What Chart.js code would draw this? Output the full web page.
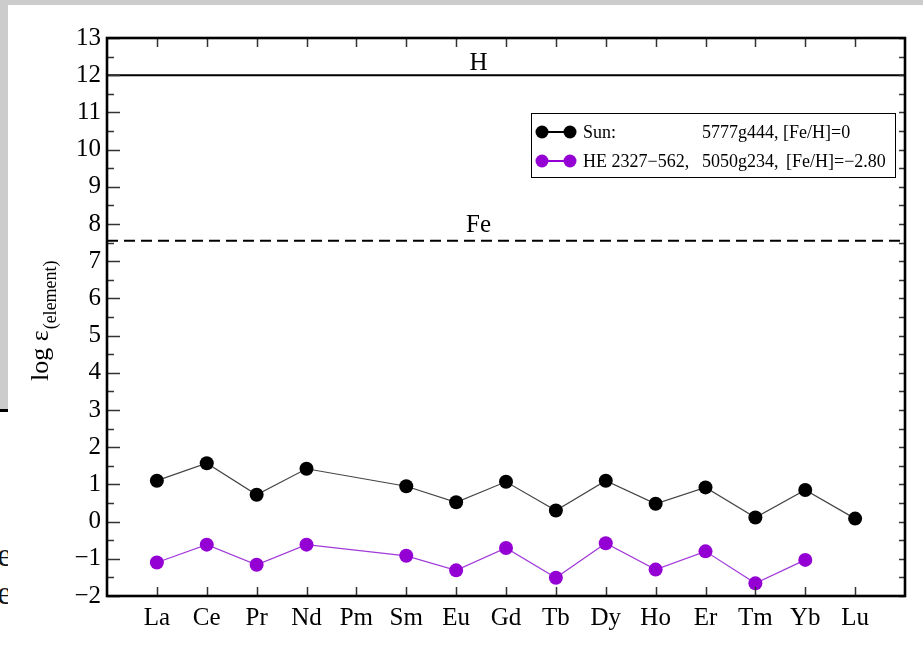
<!DOCTYPE html>
<html>
<head>
<meta charset="utf-8">
<script src="https://cdn.jsdelivr.net/npm/chart.js@4"></script>
<style>
  html, body { margin: 0; padding: 0; background: #fff; }
  body { width: 923px; height: 654px; position: relative; overflow: hidden; font-family: "Liberation Serif", serif; }
  #topstrip { position: absolute; left: 0; top: 0; width: 923px; height: 5px; background: #cccccc; }
  #leftstrip { position: absolute; left: 0; top: 0; width: 8px; height: 409px; background: #cccccc; border-bottom: 3px solid #000; }
  .frag { position: absolute; left: 0; width: 8px; height: 30px; overflow: hidden; font-size: 34px; line-height: 30px; color: #111; }
  .frag span { position: relative; left: -3px; }
  #wrap { position: absolute; left: 0; top: 0; width: 923px; height: 654px; }
</style>
</head>
<body>
<div id="topstrip"></div>
<div id="leftstrip"></div>
<div class="frag" style="top:540px"><span>e</span></div>
<div class="frag" style="top:578px"><span>e</span></div>
<div id="wrap"><canvas id="c" width="923" height="654"></canvas></div>
<script>
// ---- data ----
const elements = ['La','Ce','Pr','Nd','Pm','Sm','Eu','Gd','Tb','Dy','Ho','Er','Tm','Yb','Lu'];
const sunValues = [1.10, 1.57, 0.72, 1.42, null, 0.95, 0.52, 1.07, 0.30, 1.10, 0.48, 0.92, 0.11, 0.85, 0.08];
const heValues  = [-1.10, -0.62, -1.16, -0.62, null, -0.92, -1.31, -0.71, -1.51, -0.58, -1.29, -0.80, -1.66, -1.03, null];
const yTickValues = [-2,-1,0,1,2,3,4,5,6,7,8,9,10,11,12,13];
const refLineLabels = ['H', 'Fe'];
const refLineValues = [12, 7.55];
const seriesNames = ['Sun:', 'HE 2327\u2212562,'];
const seriesModels = ['5777g444, [Fe/H]=0', '5050g234,'];
const seriesMetal = ['', '[Fe/H]=\u22122.80'];

const SERIF = '"Liberation Serif", "Times New Roman", serif';
const fmt = v => (v < 0 ? '\u2212' + Math.abs(v) : String(v));

const toPoints = arr => arr.map((v, i) => ({ x: i, y: v }));

const framePlugin = {
  id: 'frame',
  beforeDatasetsDraw(chart) {
    const { ctx, chartArea: a, scales: { x, y } } = chart;
    ctx.save();
    // reference lines
    refLineValues.forEach((v, k) => {
      const py = y.getPixelForValue(v);
      ctx.beginPath();
      ctx.lineWidth = 2;
      ctx.strokeStyle = '#000';
      ctx.setLineDash(k === 0 ? [] : [11, 6]);
      ctx.moveTo(a.left, py);
      ctx.lineTo(a.right, py);
      ctx.stroke();
      ctx.setLineDash([]);
      ctx.fillStyle = '#000';
      ctx.font = '25px ' + SERIF;
      ctx.textAlign = 'center';
      ctx.textBaseline = 'alphabetic';
      ctx.fillText(refLineLabels[k], x.getPixelForValue(6.45), py - (k === 0 ? 5 : 9));
    });
    ctx.restore();
  },
  afterDraw(chart) {
    const { ctx, chartArea: a, scales: { x, y } } = chart;
    ctx.save();
    // inward ticks
    ctx.strokeStyle = '#333';
    ctx.lineWidth = 1.5;
    ctx.beginPath();
    for (let v = y.min; v <= y.max + 1e-9; v += 0.5) {
      const py = Math.round(y.getPixelForValue(v)) + 0.5;
      const major = Math.abs(v - Math.round(v)) < 1e-9;
      ctx.moveTo(a.left, py); ctx.lineTo(a.left + (major ? 13 : 7), py);
      ctx.moveTo(a.right, py); ctx.lineTo(a.right - 6, py);
    }
    for (let i = 0; i < elements.length; i++) {
      const px = Math.round(x.getPixelForValue(i)) + 0.5;
      ctx.moveTo(px, a.bottom); ctx.lineTo(px, a.bottom - 9);
      ctx.moveTo(px, a.top); ctx.lineTo(px, a.top + 9);
    }
    ctx.stroke();
    // frame
    ctx.lineWidth = 2.6;
    ctx.strokeStyle = '#000';
    ctx.strokeRect(a.left, a.top, a.right - a.left, a.bottom - a.top);

    // y-axis title
    ctx.fillStyle = '#000';
    ctx.translate(48, 381);
    ctx.rotate(-Math.PI / 2);
    ctx.textAlign = 'left';
    ctx.textBaseline = 'alphabetic';
    ctx.font = '26px ' + SERIF;
    const main = 'log \u03b5';
    ctx.fillText(main, 0, 0);
    const w = ctx.measureText(main).width;
    ctx.font = '18px ' + SERIF;
    ctx.fillText('(element)', w + 1, 8);
    ctx.setTransform(1, 0, 0, 1, 0, 0);

    // legend
    const lx = 531, ly = 113, lw = 364, lh = 64;
    ctx.fillStyle = '#fff';
    ctx.fillRect(lx, ly, lw, lh);
    ctx.lineWidth = 1;
    ctx.strokeStyle = '#000';
    ctx.strokeRect(lx + 0.5, ly + 0.5, lw, lh);
    chart.data.datasets.forEach((ds, k) => {
      const cy = 132 + k * 29;
      ctx.strokeStyle = ds.pointBackgroundColor;
      ctx.lineWidth = 2;
      ctx.beginPath();
      ctx.moveTo(542, cy); ctx.lineTo(570, cy);
      ctx.stroke();
      ctx.fillStyle = ds.pointBackgroundColor;
      [542, 570].forEach(cx => {
        ctx.beginPath();
        ctx.arc(cx, cy, 6.5, 0, Math.PI * 2);
        ctx.fill();
      });
      ctx.fillStyle = '#000';
      ctx.font = '18px ' + SERIF;
      ctx.textAlign = 'left';
      ctx.textBaseline = 'middle';
      ctx.fillText(seriesNames[k], 583, cy + 1);
      ctx.fillText(seriesModels[k], 702, cy + 1);
      if (seriesMetal[k]) ctx.fillText(seriesMetal[k], 786, cy + 1);
    });
    ctx.restore();
  }
};

new Chart(document.getElementById('c'), {
  type: 'line',
  data: {
    datasets: [
      {
        label: 'Sun',
        data: toPoints(sunValues),
        borderColor: '#444',
        borderWidth: 1.2,
        pointBackgroundColor: '#000',
        pointBorderColor: '#000',
        pointBorderWidth: 0,
        pointRadius: 7,
        spanGaps: true,
        tension: 0
      },
      {
        label: 'HE 2327-562',
        data: toPoints(heValues),
        borderColor: '#a13ad9',
        borderWidth: 1.2,
        pointBackgroundColor: '#9400d3',
        pointBorderColor: '#9400d3',
        pointBorderWidth: 0,
        pointRadius: 7,
        spanGaps: true,
        tension: 0
      }
    ]
  },
  options: {
    responsive: false,
    animation: false,
    layout: { padding: { left: 0, top: 38, right: 18, bottom: 0 } },
    plugins: { legend: { display: false }, tooltip: { enabled: false } },
    scales: {
      x: {
        type: 'linear',
        min: -1,
        max: 15,
        afterBuildTicks: s => { s.ticks = elements.map((_, i) => ({ value: i })); },
        afterFit: s => { s.height = 58; },
        ticks: {
          autoSkip: false,
          maxRotation: 0,
          padding: 7,
          color: '#000',
          font: { family: SERIF, size: 25 },
          callback: v => elements[v] ?? ''
        },
        grid: { display: false, drawTicks: false },
        border: { display: false }
      },
      y: {
        min: -2,
        max: 13,
        afterBuildTicks: s => { s.ticks = yTickValues.map(v => ({ value: v })); },
        afterFit: s => { s.width = 107; },
        ticks: {
          padding: 6,
          color: '#000',
          font: { family: SERIF, size: 25 },
          callback: v => fmt(v)
        },
        grid: { display: false, drawTicks: false },
        border: { display: false }
      }
    }
  },
  plugins: [framePlugin]
});
</script>
</body>
</html>
